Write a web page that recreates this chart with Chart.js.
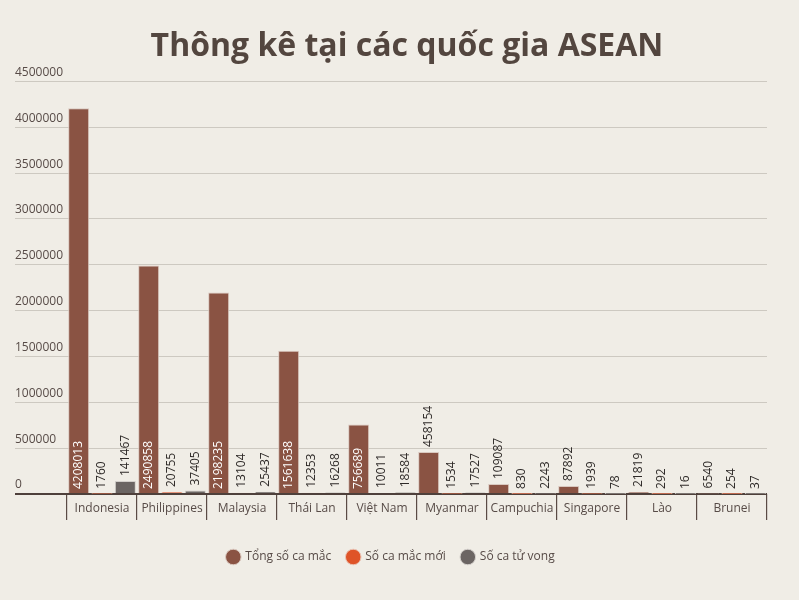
<!DOCTYPE html>
<html>
<head>
<meta charset="utf-8">
<script src="https://cdn.jsdelivr.net/npm/chart.js@4"></script>
<style>
  html, body { margin: 0; padding: 0; background: #f0ede6; }
  #wrap { width: 799px; height: 600px; position: relative; }
</style>
</head>
<body>
<div id="wrap"><canvas id="chart"></canvas></div>
<script>
// data
const countries = ['Indonesia', 'Philippines', 'Malaysia', 'Thái Lan', 'Việt Nam', 'Myanmar', 'Campuchia', 'Singapore', 'Lào', 'Brunei'];
const totalCases = [4208013, 2490858, 2198235, 1561638, 756689, 458154, 109087, 87892, 21819, 6540];
const newCases = [1760, 20755, 13104, 12353, 10011, 1534, 830, 1939, 292, 254];
const deaths = [141467, 37405, 25437, 16268, 18584, 17527, 2243, 78, 16, 37];
const seriesNames = ['Tổng số ca mắc', 'Số ca mắc mới', 'Số ca tử vong'];
const yTicks = [0, 500000, 1000000, 1500000, 2000000, 2500000, 3000000, 3500000, 4000000, 4500000];

const FONT = "'Open Sans', sans-serif";
const TEXT = '#574b47';

// value labels, rotated, inside the bar when it fits, else above
const barLabels = {
  id: 'barLabels',
  afterLayout(chart) {
    // title sits centred over the bars, not the whole width
    chart.titleBlock.left += 32;
  },
  afterDatasetsDraw(chart) {
    const ctx = chart.ctx;
    ctx.save();
    ctx.font = '12px ' + FONT;
    chart.data.datasets.forEach((ds, i) => {
      const meta = chart.getDatasetMeta(i);
      meta.data.forEach((bar, j) => {
        const txt = String(ds.data[j]);
        const w = ctx.measureText(txt).width;
        const h = bar.base - bar.y;
        let y0, color;
        if (w + 8 < h) {
          y0 = bar.base - 4;
          color = '#ffffff';
        } else {
          y0 = bar.y - 5;
          color = '#2e2a28';
        }
        ctx.save();
        ctx.translate(bar.x, y0);
        ctx.rotate(-Math.PI / 2);
        ctx.fillStyle = color;
        ctx.textAlign = 'left';
        ctx.textBaseline = 'middle';
        ctx.fillText(txt, 0, 0);
        ctx.restore();
      });
    });
    ctx.restore();
  }
};

const ctx = document.getElementById('chart');

const myChart = new Chart(ctx, {
  type: 'bar',
  data: {
    labels: countries,
    datasets: [{
      label: seriesNames[0],
      data: totalCases,
      backgroundColor: '#8a5343',
      borderColor: '#d9c8bf',
      borderWidth: 1
    }, {
      label: seriesNames[1],
      data: newCases,
      backgroundColor: '#df5428',
      borderColor: '#e9c2b3',
      borderWidth: 1
    }, {
      label: seriesNames[2],
      data: deaths,
      backgroundColor: '#6b6563',
      borderColor: '#d3cfcb',
      borderWidth: 1
    }]
  },
  options: {
    responsive: true,
    maintainAspectRatio: false,
    animation: false,
    categoryPercentage: 1,
    barPercentage: 0.9,
    layout: { padding: { left: 15, right: 32, top: 0, bottom: 27 } },
    plugins: {
      title: {
        display: true,
        text: 'Thông kê tại các quốc gia ASEAN',
        color: '#53463f',
        font: { family: FONT, size: 32, weight: 'bold' },
        padding: { top: 28, bottom: 15 }
      },
      legend: {
        position: 'bottom',
        labels: {
          usePointStyle: true,
          pointStyle: 'circle',
          boxHeight: 11,
          padding: 16,
          color: TEXT,
          font: { family: FONT, size: 12 }
        }
      },
      tooltip: { enabled: false }
    },
    scales: {
      x: {
        border: { display: false },
        grid: {
          offset: true,
          drawOnChartArea: false,
          drawTicks: true,
          tickLength: 26,
          color: '#5a4b45',
          lineWidth: 1.2
        },
        ticks: {
          color: TEXT,
          padding: -19,
          font: { family: FONT, size: 12 }
        },
        afterFit(scale) { scale.height = 41; }
      },
      y: {
        min: 0,
        max: 4500000,
        border: { display: false },
        afterBuildTicks(scale) { scale.ticks = yTicks.map(v => ({ value: v })); },
        afterFit(scale) { scale.width = 52; },
        grid: {
          drawTicks: true,
          tickLength: 52,
          color: c => c.tick && c.tick.value === 0 ? '#4e403b' : '#cdc9c1',
          lineWidth: c => c.tick && c.tick.value === 0 ? 2 : 1
        },
        ticks: {
          crossAlign: 'far',
          labelOffset: -9,
          padding: 0,
          color: TEXT,
          font: { family: FONT, size: 12 },
          callback: v => String(v)
        }
      }
    }
  },
  plugins: [barLabels]
});
</script>
</body>
</html>
